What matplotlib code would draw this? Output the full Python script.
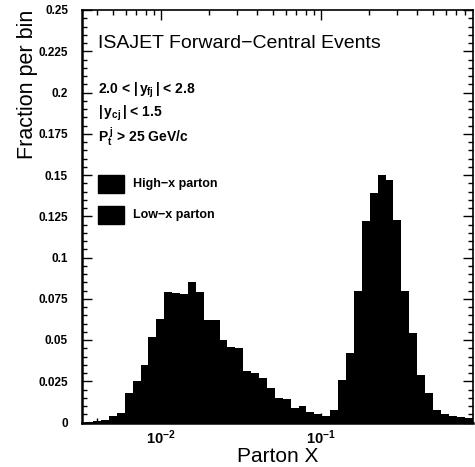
import numpy as np
import matplotlib
matplotlib.use("Agg")
import matplotlib.pyplot as plt
from matplotlib.patches import Rectangle
from matplotlib.ticker import FixedLocator, FixedFormatter, LogLocator, MultipleLocator

# bin edges in log10(x): 50 bins, equal width in log
LOG_START = -2.474
LOG_STEP = 0.0494
N_BINS = 50

# fraction per bin, low-x parton (left peak)
low_x = [0.0005, 0.001, 0.0015, 0.004, 0.006, 0.018, 0.025, 0.035, 0.052, 0.063,
         0.079, 0.0785, 0.078, 0.085, 0.079, 0.062, 0.062, 0.050, 0.046, 0.045,
         0.031, 0.030, 0.027, 0.021, 0.0147, 0.014, 0.0086, 0.010, 0.0065, 0.005,
         0.004, 0.002, 0.001, 0.0005, 0, 0, 0, 0, 0, 0,
         0, 0, 0, 0, 0, 0, 0, 0, 0, 0]

# fraction per bin, high-x parton (right peak)
high_x = [0, 0, 0, 0, 0, 0, 0, 0, 0, 0,
          0, 0, 0, 0, 0, 0, 0, 0, 0, 0,
          0, 0, 0, 0, 0, 0, 0, 0, 0, 0,
          0.003, 0.0076, 0.026, 0.042, 0.080, 0.122, 0.139, 0.150, 0.147, 0.123,
          0.080, 0.054, 0.029, 0.018, 0.0076, 0.005, 0.004, 0.0035, 0.003, 0.003]

y_ticks = [0, 0.025, 0.05, 0.075, 0.1, 0.125, 0.15, 0.175, 0.2, 0.225, 0.25]
y_tick_labels = ["0", "0.025", "0.05", "0.075", "0.1", "0.125", "0.15",
                 "0.175", "0.2", "0.225", "0.25"]

title = "ISAJET Forward\u2212Central Events"
cuts = [r"2.0 < $|\,y_{fj}\,|$ < 2.8", r"$|\,y_{cj}\,|$ < 1.5",
        r"$P_t^{\,j}$ > 25 GeV/c"]
legend_labels = ["High\u2212x parton", "Low\u2212x parton"]


def main():
    plt.rcParams["font.family"] = ["Liberation Sans", "DejaVu Sans"]
    plt.rcParams["mathtext.fontset"] = "custom"
    plt.rcParams["mathtext.rm"] = "Liberation Sans:bold"
    plt.rcParams["mathtext.it"] = "Liberation Sans:bold"

    fig = plt.figure(figsize=(4.75, 4.67), dpi=100)
    ax = fig.add_axes([82 / 475, 44.5 / 467, 391 / 475, 412.5 / 467])

    edges = 10 ** (LOG_START + LOG_STEP * np.arange(N_BINS + 1))
    ax.stairs(low_x, edges, fill=True, color="black", linewidth=0)
    ax.stairs(high_x, edges, fill=True, color="black", linewidth=0)

    ax.set_xscale("log")
    ax.set_xlim(10 ** -2.494, 10 ** -0.05)
    ax.set_ylim(0, 0.25)

    ax.yaxis.set_major_locator(FixedLocator(y_ticks))
    ax.yaxis.set_major_formatter(FixedFormatter(y_tick_labels))
    ax.yaxis.set_minor_locator(MultipleLocator(0.005))
    ax.xaxis.set_major_locator(LogLocator(base=10, numticks=10))
    ax.xaxis.set_minor_locator(LogLocator(base=10, subs=np.arange(2, 10), numticks=20))

    ax.tick_params(which="both", direction="in", top=True, right=True,
                   width=1.0, colors="black")
    ax.tick_params(which="major", length=7)
    ax.tick_params(which="minor", length=3.5)
    ax.tick_params(axis="y", labelsize=8.5, pad=10)
    ax.tick_params(axis="x", labelsize=10.5, pad=4)
    for lab in ax.get_yticklabels() + ax.get_xticklabels():
        lab.set_fontweight("bold")

    for side in ["left", "bottom"]:
        ax.spines[side].set_linewidth(1.8)
    for side in ["top", "right"]:
        ax.spines[side].set_linewidth(1.2)

    ax.set_ylabel("Fraction per bin", fontsize=15.5, loc="top", labelpad=0)
    ax.set_xlabel("Parton X", fontsize=15, labelpad=0)

    ax.text(0.041, 0.92, title, transform=ax.transAxes, fontsize=14,
            va="center", ha="left")
    for y, s in zip([0.806, 0.75, 0.692], cuts):
        ax.text(0.041, y, s, transform=ax.transAxes, fontsize=10,
                fontweight="bold", va="center", ha="left")

    for y, lab in zip([0.556, 0.481], legend_labels):
        ax.add_patch(Rectangle((0.041, y), 0.0665, 0.043,
                               transform=ax.transAxes, color="black"))
        ax.text(0.13, y + 0.022, lab, transform=ax.transAxes, fontsize=9,
                fontweight="bold", va="center", ha="left")

    fig.savefig("out.png", dpi=100)


if __name__ == "__main__":
    main()
